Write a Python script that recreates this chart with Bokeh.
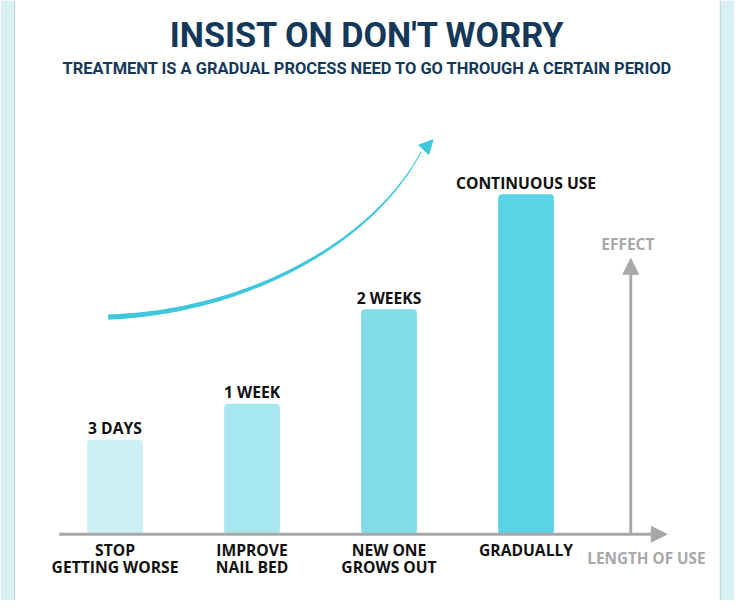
import numpy as np
from bokeh.plotting import figure
from bokeh.models import Range1d, Arrow, NormalHead
from bokeh.core.properties import value
from bokeh.embed import file_html
from bokeh.resources import INLINE

# ---- data ----
title = "INSIST ON DON'T WORRY"
subtitle = "TREATMENT IS A GRADUAL PROCESS NEED TO GO THROUGH A CERTAIN PERIOD"
stages = ["STOP\nGETTING WORSE", "IMPROVE\nNAIL BED", "NEW ONE\nGROWS OUT", "GRADUALLY"]
durations = ["3 DAYS", "1 WEEK", "2 WEEKS", "CONTINUOUS USE"]
effect = [97, 134, 231, 349]
bar_colors = ["#cbf0f5", "#a7e8f0", "#80dce9", "#5bd3e6"]
y_axis_label = "EFFECT"
x_axis_label = "LENGTH OF USE"

# ---- layout ----
W, H = 734, 600
S = W / 750.0  # scale of figure px per unit


def fs(px):
    return "%.2fpx" % (px * S)


p = figure(width=W, height=H, x_range=Range1d(0, 750), y_range=Range1d(548 - 616, 548),
           toolbar_location=None, output_backend="svg", min_border=0,
           x_axis_location=None, y_axis_location=None)
p.grid.visible = False
p.outline_line_color = None
p.background_fill_color = "white"
p.border_fill_color = "white"

# side strips
p.quad(left=[0, 736], right=[14, 750], bottom=548 - 616, top=548, fill_color="#d6f0f3", line_color=None)
p.segment(x0=[14.5, 735.5], y0=548 - 616, x1=[14.5, 735.5], y1=548, line_color="#b3cdd3", line_width=1)

xs = [117 + 140 * i for i in range(len(effect))]
p.vbar(x=xs, width=57, bottom=0, top=effect, fill_color=bar_colors, line_color=None,
       border_radius=4)

bold_font = value("Open Sans")
p.text(x=xs, y=[v + 12 for v in effect], text=durations, text_font=bold_font,
       text_font_style="bold", text_font_size=fs(16), text_align="center",
       text_baseline="alphabetic", text_color="#111111")

line1 = [s.split("\n")[0] for s in stages]
line2 = [s.split("\n")[1] if "\n" in s else "" for s in stages]
p.text(x=xs, y=-16, text=line1, text_font=bold_font, text_font_style="bold",
       text_font_size=fs(16), text_align="center", text_baseline="alphabetic",
       text_color="#111111")
p.text(x=xs, y=-34, text=line2, text_font=bold_font, text_font_style="bold",
       text_font_size=fs(16), text_align="center", text_baseline="alphabetic",
       text_color="#111111")

# axes arrows
gray = "#a8a8a8"
p.add_layout(Arrow(end=NormalHead(size=16 * S, fill_color=gray, line_color=gray),
                   x_start=60, y_start=0, x_end=681, y_end=0, line_color=gray, line_width=3 * S))
p.add_layout(Arrow(end=NormalHead(size=16 * S, fill_color=gray, line_color=gray),
                   x_start=644, y_start=0, x_end=644, y_end=283, line_color=gray, line_width=3 * S))
p.text(x=[641], y=[298], text=[y_axis_label], text_font=bold_font, text_font_style="bold",
       text_font_size=fs(15.8), text_align="center", text_baseline="alphabetic", text_color=gray)
p.text(x=[660], y=[-24], text=[x_axis_label], text_font=bold_font, text_font_style="bold",
       text_font_size=fs(15.6), text_align="center", text_baseline="alphabetic", text_color=gray)

# curved growth arrow (tapered cubic bezier)
P0 = np.array([110.0, 548 - 325.0])
C0 = np.array([250.0, 548 - 320.0])
C1 = np.array([380.0, 548 - 250.0])
P3 = np.array([430.0, 548 - 155.0])
t = np.linspace(0, 1, 120)[:, None]
B = (1 - t) ** 3 * P0 + 3 * (1 - t) ** 2 * t * C0 + 3 * (1 - t) * t ** 2 * C1 + t ** 3 * P3
D = 3 * (1 - t) ** 2 * (C0 - P0) + 6 * (1 - t) * t * (C1 - C0) + 3 * t ** 2 * (P3 - C1)
N = np.column_stack([-D[:, 1], D[:, 0]])
N = N / np.linalg.norm(N, axis=1)[:, None]
w = (2.2 * (1 - t[:, 0]) + 0.5)[:, None]
upper = B + N * w
lower = B - N * w
poly = np.vstack([upper, lower[::-1]])
cyan = "#3fc7dd"
p.patch(x=poly[:, 0], y=poly[:, 1], fill_color=cyan, line_color=None)
p.add_layout(Arrow(end=NormalHead(size=14 * S, fill_color=cyan, line_color=cyan),
                   x_start=P3[0] - 3, y_start=P3[1] - 4, x_end=442, y_end=548 - 143,
                   line_alpha=0))

# titles
p.text(x=[375], y=[548 - 35], text=[title], text_font=value("Roboto"), text_font_style="bold",
       text_font_size=fs(35), text_align="center", text_baseline="alphabetic", text_color="#14385a")
p.text(x=[375], y=[548 - 70], text=[subtitle], text_font=value("Roboto"), text_font_style="bold",
       text_font_size=fs(16.8), text_align="center", text_baseline="alphabetic", text_color="#14385a")

open("out.html", "w").write(file_html(p, INLINE))
